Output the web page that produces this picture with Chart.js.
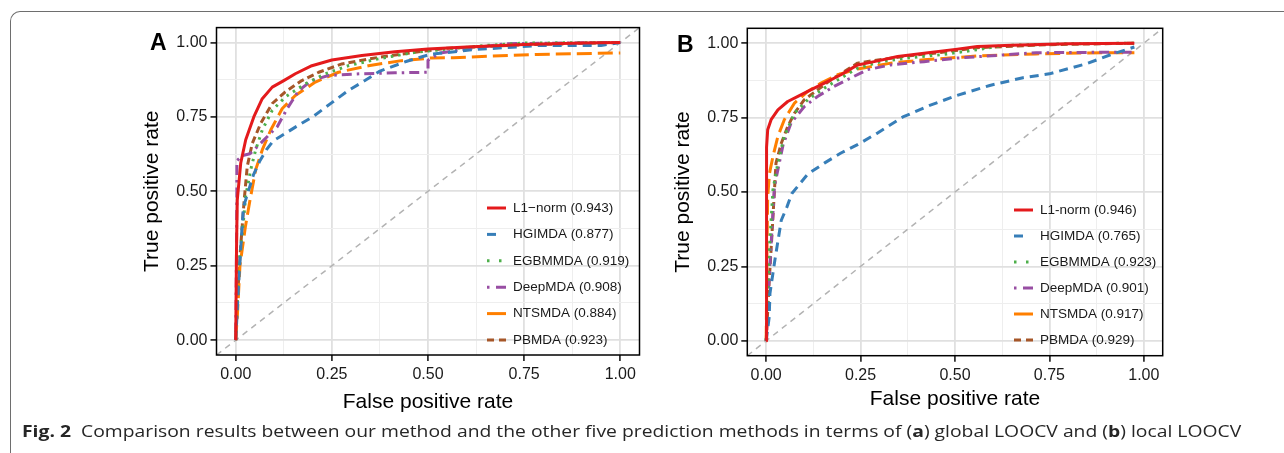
<!DOCTYPE html>
<html>
<head>
<meta charset="utf-8">
<script src="https://cdn.jsdelivr.net/npm/chart.js@4.4.1/dist/chart.umd.min.js"></script>
<style>
  html, body { margin: 0; padding: 0; background: #fff; }
  body { width: 1284px; height: 453px; position: relative; overflow: hidden; }
  .frame {
    position: absolute; left: 10px; top: 11px; width: 1320px; height: 500px;
    border-top: 1.3px solid #6e6e6e; border-left: 1.3px solid #6e6e6e;
    border-top-left-radius: 10px;
  }
  canvas { position: absolute; top: 15px; }
  .tag { position: absolute; font: bold 23px Arial, "Liberation Sans", sans-serif; color: #000; line-height: 1; }
  .caption {
    position: absolute; left: 22px; top: 421px; white-space: nowrap;
    font: 15.5px "Open Sans", "Noto Sans", sans-serif; color: #262626;
    transform-origin: left center; line-height: 20px;
  }
</style>
</head>
<body>
<div class="frame"></div>
<canvas id="rocA" width="520" height="410" style="left:130px"></canvas>
<canvas id="rocB" width="520" height="410" style="left:661px"></canvas>
<div class="tag" style="left:150px; top:31px">A</div>
<div class="tag" style="left:677px; top:33px">B</div>
<div class="caption" id="caption"><b>Fig. 2</b>&nbsp; Comparison results between our method and the other five prediction methods in terms of (<b>a</b>) global LOOCV and (<b>b</b>) local LOOCV</div>

<script>
// ---- data: [false positive rate, true positive rate] ----
const methods = ['L1-norm', 'HGIMDA', 'EGBMMDA', 'DeepMDA', 'NTSMDA', 'PBMDA'];
const aucGlobal = [0.943, 0.877, 0.919, 0.908, 0.884, 0.923];
const aucLocal = [0.946, 0.765, 0.923, 0.901, 0.917, 0.929];

// panel A, global LOOCV
const globalL1 = [[0,0],[0.002,0.30],[0.004,0.47],[0.013,0.595],[0.026,0.673],[0.047,0.75],[0.069,0.811],[0.095,0.85],[0.125,0.872],[0.155,0.895],[0.198,0.922],[0.25,0.941],[0.328,0.956],[0.414,0.969],[0.5,0.978],[0.6,0.985],[0.75,0.993],[0.9,0.998],[1,1]];
const globalHGIMDA = [[0,0],[0.008,0.2],[0.015,0.35],[0.02,0.447],[0.046,0.555],[0.063,0.603],[0.08,0.64],[0.098,0.67],[0.116,0.684],[0.153,0.714],[0.202,0.752],[0.25,0.798],[0.293,0.839],[0.336,0.872],[0.375,0.904],[0.445,0.937],[0.506,0.96],[0.618,0.976],[0.792,0.99],[0.95,0.99],[1,1]];
const globalEGBMMDA = [[0,0],[0.008,0.25],[0.02,0.40],[0.026,0.484],[0.039,0.573],[0.052,0.64],[0.069,0.706],[0.095,0.772],[0.129,0.817],[0.181,0.861],[0.233,0.895],[0.293,0.922],[0.371,0.945],[0.466,0.967],[0.552,0.978],[0.65,0.99],[0.75,0.998],[1,1]];
const globalDeepMDA = [[0,0],[0.002,0.3],[0.003,0.5],[0.003,0.603],[0.017,0.62],[0.037,0.626],[0.063,0.659],[0.069,0.667],[0.108,0.717],[0.134,0.778],[0.164,0.839],[0.198,0.872],[0.241,0.889],[0.328,0.895],[0.414,0.898],[0.5,0.9],[0.5,0.94],[0.532,0.965],[0.618,0.982],[0.705,0.996],[0.85,0.998],[1,1]];
const globalNTSMDA = [[0,0],[0.005,0.1],[0.011,0.25],[0.025,0.38],[0.037,0.47],[0.052,0.573],[0.069,0.639],[0.091,0.706],[0.121,0.778],[0.155,0.822],[0.207,0.867],[0.267,0.9],[0.345,0.922],[0.431,0.939],[0.509,0.948],[0.566,0.949],[0.783,0.96],[1,0.965]];
const globalPBMDA = [[0,0],[0.005,0.15],[0.012,0.3],[0.022,0.47],[0.03,0.584],[0.043,0.661],[0.065,0.728],[0.095,0.795],[0.129,0.834],[0.172,0.872],[0.216,0.9],[0.276,0.928],[0.371,0.95],[0.466,0.967],[0.552,0.981],[0.75,0.992],[1,1]];

// panel B, local LOOCV
const localL1 = [[0,0],[0,0.5],[0.002,0.65],[0.004,0.709],[0.013,0.743],[0.031,0.776],[0.057,0.804],[0.084,0.821],[0.11,0.838],[0.154,0.866],[0.198,0.894],[0.242,0.927],[0.286,0.938],[0.348,0.955],[0.418,0.966],[0.506,0.98],[0.559,0.989],[0.65,0.993],[0.8,0.998],[0.975,1]];
const localHGIMDA = [[0,0],[0.008,0.08],[0.01,0.159],[0.023,0.271],[0.04,0.405],[0.055,0.45],[0.068,0.495],[0.11,0.56],[0.154,0.597],[0.198,0.631],[0.242,0.659],[0.292,0.696],[0.362,0.752],[0.433,0.791],[0.504,0.824],[0.592,0.858],[0.68,0.884],[0.75,0.897],[0.848,0.931],[0.918,0.964],[0.975,0.987]];
const localEGBMMDA = [[0,0],[0.008,0.3],[0.018,0.508],[0.031,0.597],[0.048,0.687],[0.075,0.765],[0.11,0.81],[0.154,0.849],[0.198,0.883],[0.242,0.916],[0.304,0.938],[0.374,0.95],[0.462,0.961],[0.559,0.978],[0.627,0.992],[0.8,0.998],[0.975,1]];
const localDeepMDA = [[0,0],[0.005,0.15],[0.012,0.3],[0.022,0.519],[0.031,0.575],[0.045,0.66],[0.066,0.732],[0.101,0.787],[0.136,0.821],[0.18,0.855],[0.224,0.883],[0.268,0.911],[0.33,0.927],[0.418,0.938],[0.506,0.95],[0.715,0.968],[0.975,0.97]];
const localNTSMDA = [[0,0],[0.002,0.3],[0.004,0.485],[0.009,0.564],[0.018,0.62],[0.031,0.687],[0.048,0.743],[0.075,0.799],[0.11,0.838],[0.145,0.866],[0.189,0.894],[0.242,0.913],[0.33,0.933],[0.418,0.944],[0.506,0.952],[0.559,0.957],[0.715,0.964],[0.891,0.968],[0.975,0.968]];
const localPBMDA = [[0,0],[0.008,0.2],[0.015,0.35],[0.022,0.508],[0.026,0.597],[0.04,0.664],[0.057,0.72],[0.075,0.765],[0.101,0.81],[0.136,0.843],[0.172,0.877],[0.207,0.905],[0.242,0.933],[0.286,0.942],[0.374,0.957],[0.462,0.969],[0.559,0.985],[0.75,0.995],[0.975,1]];

const chanceLine = [[-0.05,-0.05],[1.05,1.05]];
const gridSteps = [0, 0.125, 0.25, 0.375, 0.5, 0.625, 0.75, 0.875, 1];
const axisRange = [-0.05, 1.05];

// ---- styling ----
const FONT = 'Arial, "Liberation Sans", sans-serif';
const colors = ['#E41A1C', '#377EB8', '#4DAF4A', '#984EA3', '#FF7F00', '#A65628'];
const dashes = [[], [9, 6], [2.5, 5], [2.5, 5, 10, 5], [15, 6], [7, 4]];
const keyDashes = [[], [9, 30], [2.5, 9.5], [2.5, 6.5, 10, 10], [], [7, 5]];

const isMajor = v => Math.abs(v * 4 - Math.round(v * 4)) < 1e-6;

const panelExtras = {
  id: 'panelExtras',
  afterDatasetsDraw(chart, args, opts) {
    const { ctx, chartArea: a } = chart;
    ctx.save();
    ctx.strokeStyle = '#000';
    ctx.lineWidth = 1.5;
    ctx.strokeRect(a.left, a.top, a.right - a.left, a.bottom - a.top);

    // legend sits inside the panel, bottom right
    const items = chart.data.datasets.filter(d => d.keyDash);
    ctx.font = '13.5px ' + FONT;
    ctx.textBaseline = 'middle';
    items.forEach((d, i) => {
      const y = a.bottom - opts.bottom - (items.length - 1 - i) * opts.rowGap;
      const x0 = a.right - opts.keyRight;
      ctx.beginPath();
      ctx.setLineDash(d.keyDash);
      ctx.strokeStyle = d.borderColor;
      ctx.lineWidth = 3;
      ctx.moveTo(x0, y);
      ctx.lineTo(x0 + 19, y);
      ctx.stroke();
      ctx.setLineDash([]);
      ctx.fillStyle = '#1a1a1a';
      ctx.fillText(d.label, x0 + opts.textGap, y);
    });
    ctx.restore();
  }
};

function axisConfig(titleText, isX, lay) {
  return {
    type: 'linear',
    min: axisRange[0],
    max: axisRange[1],
    afterBuildTicks: ax => { ax.ticks = gridSteps.map(v => ({ value: v })); },
    afterFit: ax => { if (isX) ax.height = lay.xAxisH; else ax.width = lay.yAxisW; },
    grid: {
      color: c => isMajor(c.tick.value) ? '#e0e0e0' : '#eeeeee',
      lineWidth: c => isMajor(c.tick.value) ? 1.8 : 1,
      tickColor: c => isMajor(c.tick.value) ? '#333' : 'rgba(0,0,0,0)',
      tickLength: 6
    },
    border: { display: false },
    ticks: {
      autoSkip: false,
      maxRotation: 0,
      padding: isX ? 4 : 3,
      color: '#1a1a1a',
      font: { family: FONT, size: 16 },
      callback: v => isMajor(v) ? v.toFixed(2) : ''
    },
    title: {
      display: true,
      text: titleText,
      color: '#000',
      font: { family: FONT, size: 21 },
      padding: isX ? { top: 0, bottom: lay.xTitlePad } : { top: lay.yTitlePad, bottom: 0 }
    }
  };
}

function makeRoc(canvasId, curves, aucs, firstName, lay) {
  const datasets = curves.map((pts, i) => ({
    label: (i === 0 ? firstName : methods[i]) + ' (' + aucs[i].toFixed(3) + ')',
    data: pts.map(p => ({ x: p[0], y: p[1] })),
    borderColor: colors[i],
    borderDash: dashes[i],
    keyDash: keyDashes[i].length ? keyDashes[i] : [1000, 0],
    borderWidth: 3,
    borderCapStyle: 'butt',
    borderJoinStyle: 'round',
    showLine: true,
    pointRadius: 0,
    fill: false,
    tension: 0
  }));
  datasets.push({
    label: 'chance',
    data: chanceLine.map(p => ({ x: p[0], y: p[1] })),
    borderColor: '#b3b3b3',
    borderDash: [6, 5],
    borderWidth: 1.5,
    showLine: true,
    pointRadius: 0
  });

  new Chart(document.getElementById(canvasId), {
    type: 'scatter',
    data: { datasets: datasets },
    options: {
      responsive: false,
      animation: false,
      devicePixelRatio: 1,
      layout: { padding: { left: 0, right: lay.padRight, top: lay.padTop, bottom: 0 } },
      plugins: {
        legend: { display: false },
        tooltip: { enabled: false },
        panelExtras: lay.legend
      },
      scales: {
        x: axisConfig('False positive rate', true, lay),
        y: axisConfig('True positive rate', false, lay)
      }
    },
    plugins: [panelExtras]
  });
}

makeRoc('rocA',
  [globalL1, globalHGIMDA, globalEGBMMDA, globalDeepMDA, globalNTSMDA, globalPBMDA],
  aucGlobal, 'L1\u2212norm',
  { yAxisW: 86.5, xAxisH: 70, padRight: 10.5, padTop: 12.3, yTitlePad: 9.2, xTitlePad: 10.5,
    legend: { keyRight: 152.5, textGap: 26, bottom: 15, rowGap: 26.4 } });

makeRoc('rocB',
  [localL1, localHGIMDA, localEGBMMDA, localDeepMDA, localNTSMDA, localPBMDA],
  aucLocal, 'L1-norm',
  { yAxisW: 86.3, xAxisH: 69.3, padRight: 18.3, padTop: 13.3, yTitlePad: 9.2, xTitlePad: 13.2,
    legend: { keyRight: 148.7, textGap: 26, bottom: 15.7, rowGap: 26 } });

// stretch caption to the width it spans in the figure
const cap = document.getElementById('caption');
const capWidth = 1219;
cap.style.transform = 'scaleX(' + (capWidth / cap.scrollWidth) + ')';
</script>
</body>
</html>
